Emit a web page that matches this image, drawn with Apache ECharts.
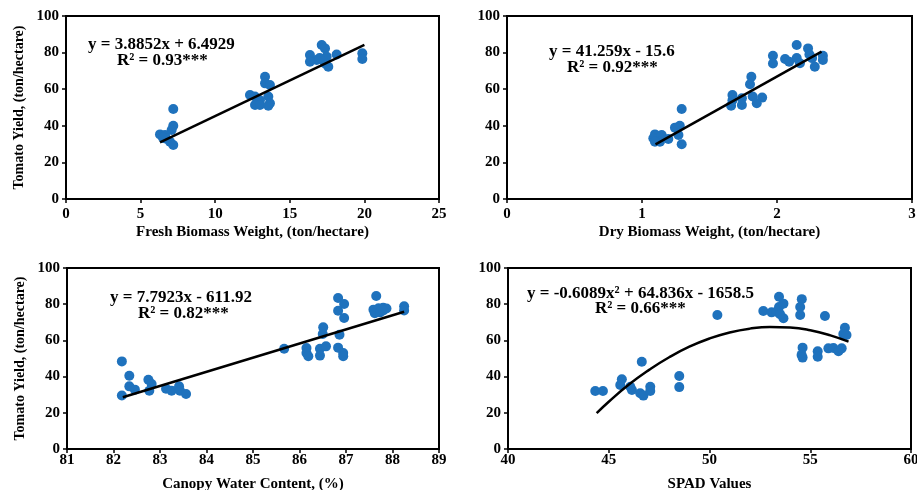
<!DOCTYPE html>
<html><head><meta charset="utf-8">
<script src="https://cdn.jsdelivr.net/npm/echarts@6/dist/echarts.min.js"></script>
<style>html,body{margin:0;padding:0;background:#fff}#c{width:917px;height:490px}</style>
</head><body><div id="c"></div>
<script>
// Fresh biomass panel
const freshX = [7.19,7.19,7.08,6.3,6.64,6.7,6.97,7.19,6.5, 13.34,13.34,13.67,12.33,12.66,13.0,13.56,12.67,13.0,13.67,13.56, 17.14,17.36,16.35,16.8,16.35,17.47,18.14,17.36,17.58,17.0, 19.86,19.86];
const freshY = [49.2,40,37.7,35.3,35,33,31.3,29.5,33.5, 66.8,63.2,62.3,56.8,56,54,56,51.4,51.4,52.3,51, 84.2,82.3,78.7,76,75,77.8,79,74.1,72.3,77, 79.6,76.5];
const freshTrendX = [6.3, 20];
const freshTrendY = [31.0, 84.2];
// Dry biomass panel
const dryX = [1.294,1.28,1.244,1.27,1.294,1.096,1.084,1.146,1.133,1.195,1.096, 1.81,1.80,1.67,1.67,1.66,1.74,1.74,1.82,1.89,1.85, 1.97,1.97,2.06,2.09,2.146,2.146,2.17,2.23,2.24,2.28,2.34,2.34,2.26];
const dryY = [49.2,40,39,35,29.9,35.3,33.2,35,31.3,32.8,31.3, 66.8,62.7,56.8,54,51,51.4,55,56,55.4,52.3, 78.3,74,76.5,75,84.2,77,74.2,82.3,79,72.3,78.3,76,77];
const dryTrendX = [1.1, 2.33];
const dryTrendY = [29.8, 80.5];
// Canopy water content panel
const cwcX = [82.18,82.34,82.34,82.46,82.18,82.75,82.82,82.77,83.13,83.25,83.41,83.43,83.56, 85.67,86.15,86.15,86.19,86.51,86.5,86.44,86.44,86.57,86.83,86.96,86.83,86.96,86.86,86.83,86.94,86.94, 87.65,87.59,87.7,87.8,87.87,87.62,87.73,87.8,88.25,88.25];
const cwcY = [48.4,40.5,34.6,32.8,29.6,38.3,35.9,32.2,33.3,32.2,34.6,32.2,30.4, 55.4,55.8,53,51.2,67.2,63.5,55.4,51.6,56.7,83.4,80.1,76.4,72.4,63.1,56,53,51.3, 84.5,77,77.8,78,77.6,75,75.5,76.5,78.8,76.5];
const cwcTrendX = [82.2, 88.25];
const cwcTrendY = [28.6, 75.8];
// SPAD panel
const spadX = [44.33,44.71,45.65,45.57,46.15,46.07,46.64,46.56,46.72,47.06,47.06,48.5,48.5, 50.39,52.67,53.08,53.45,53.45,53.67,53.67,53.33,53.5,54.58,54.5,54.5,55.73, 54.62,54.57,54.62,55.37,55.37,55.9,56.15,56.4,56.56,56.72,56.64,56.8];
const spadY = [32,32,38.5,35.4,32.6,34.4,48.2,30.8,29.5,34.4,32,40.3,34.2, 74,76.2,75.5,84.1,78.5,80.3,72.2,75.8,74.5,82.8,78.5,74,73.5, 56,52,50.5,54,51,55.6,55.8,54,55.6,67,63.5,63];
const spadTrendX = [44.4,45,46,47,48,49,50,51,52,53,54,55,56,56.9];
const spadTrendY = [19.8,26.1,35.6,43.7,50.7,56.5,61.05,64.4,66.5,67.4,67.1,65.6,62.8,59.3];

const yTicks = {min:0,max:100,interval:20};
const xTicks = [{min:0,max:25,interval:5},{min:0,max:3,interval:1},{min:81,max:89,interval:1},{min:40,max:60,interval:5}];
const xNames = ['Fresh Biomass Weight, (ton/hectare)','Dry Biomass Weight, (ton/hectare)','Canopy Water Content, (%)','SPAD Values'];
const yName = 'Tomato Yield, (ton/hectare)';
const eqs = [['y = 3.8852x + 6.4929','R² = 0.93***'],['y = 41.259x - 15.6','R² = 0.92***'],['y = 7.7923x - 611.92','R² = 0.82***'],['y = -0.6089x² + 64.836x - 1658.5','R² = 0.66***']];

const FONT = '"Liberation Serif","Times New Roman",serif';
const BLUE = '#1f72bd';
const grids = [
  {left:66,top:16,width:373,height:183},
  {left:507,top:16,width:405,height:183},
  {left:67,top:268,width:372,height:181},
  {left:508,top:268,width:403,height:181}
];
const labelMargins = [8,8,4,4];
const nameGaps = [26,26,28,28];
const eqPos = [[88,45,117,61],[549,52,567,68],[110,298,138,314],[527,294,595,309]];

const zip = (a,b)=>a.map((v,i)=>[v,b[i]]);
const scatterData = [zip(freshX,freshY),zip(dryX,dryY),zip(cwcX,cwcY),zip(spadX,spadY)];
const trendData = [zip(freshTrendX,freshTrendY),zip(dryTrendX,dryTrendY),zip(cwcTrendX,cwcTrendY),zip(spadTrendX,spadTrendY)];

const option = {
  animation:false,
  grid: grids.map(g=>Object.assign({show:true,borderColor:'#000',borderWidth:2,backgroundColor:'transparent',containLabel:false,outerBoundsMode:'none'},g)),
  xAxis: xTicks.map((t,i)=>({
    type:'value',gridIndex:i,min:t.min,max:t.max,interval:t.interval,
    name:xNames[i],nameLocation:'middle',nameGap:nameGaps[i],
    nameTextStyle:{fontFamily:FONT,fontWeight:'bold',fontSize:15,color:'#000'},
    axisLine:{lineStyle:{color:'#000',width:2}},
    axisTick:{show:true,inside:false,length:4,lineStyle:{color:'#000',width:1.5}},
    axisLabel:{fontFamily:FONT,fontWeight:'bold',fontSize:15,color:'#000',margin:labelMargins[i]},
    splitLine:{show:false}
  })),
  yAxis: [0,1,2,3].map(i=>({
    type:'value',gridIndex:i,min:yTicks.min,max:yTicks.max,interval:yTicks.interval,
    name:(i===0||i===2)?yName:'',nameLocation:'middle',nameGap:40,nameRotate:90,
    nameTextStyle:{fontFamily:FONT,fontWeight:'bold',fontSize:14,color:'#000'},
    axisLine:{lineStyle:{color:'#000',width:2}},
    axisTick:{show:true,inside:false,length:4,lineStyle:{color:'#000',width:1.5}},
    axisLabel:{fontFamily:FONT,fontWeight:'bold',fontSize:15,color:'#000',margin:7},
    splitLine:{show:false}
  })),
  series: [].concat(
    scatterData.map((d,i)=>({type:'scatter',xAxisIndex:i,yAxisIndex:i,data:d,symbolSize:10,itemStyle:{color:BLUE,opacity:1},z:2})),
    trendData.map((d,i)=>({type:'line',xAxisIndex:i,yAxisIndex:i,data:d,smooth:i===3,showSymbol:false,symbol:'none',lineStyle:{color:'#000',width:2.5},z:3}))
  ),
  graphic: [].concat(...eqs.map((e,i)=>[
    {type:'text',left:eqPos[i][0],top:eqPos[i][1]-9,style:{text:e[0],font:'bold 17px '+FONT,fill:'#000'},z:10},
    {type:'text',left:eqPos[i][2],top:eqPos[i][3]-9,style:{text:e[1],font:'bold 17px '+FONT,fill:'#000'},z:10}
  ]))
};
const chart = echarts.init(document.getElementById('c'),null,{renderer:'canvas'});
chart.setOption(option);
</script></body></html>
